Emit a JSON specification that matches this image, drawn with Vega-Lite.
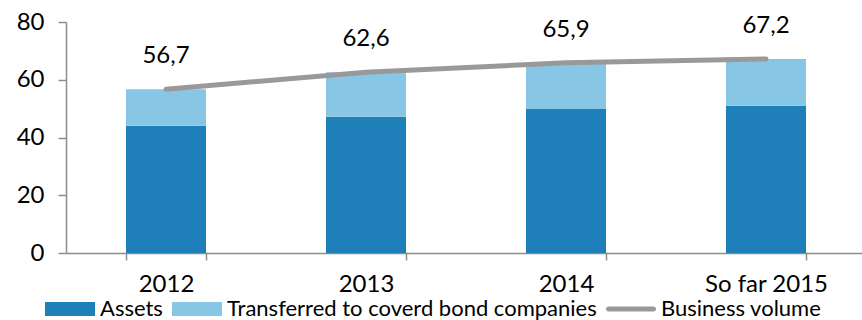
{
  "$schema": "https://vega.github.io/schema/vega-lite/v6.json",
  "autosize": {"type": "none"},
  "padding": {"left": 66, "top": 22, "right": 0, "bottom": 67},
  "width": 800,
  "height": 231,
  "config": {
    "font": "Lato",
    "view": {"stroke": null},
    "axis": {"labelFont": "Lato", "labelFontSize": 24, "labelColor": "#000000", "domainColor": "#8c8c8c", "tickColor": "#8c8c8c", "domainWidth": 1.5, "tickWidth": 1.5, "grid": false, "title": null}
  },
  "datasets": {
    "bars": [
      {"year": "2012", "series": "Assets", "value": 44.1},
      {"year": "2012", "series": "Transferred to coverd bond companies", "value": 12.6},
      {"year": "2013", "series": "Assets", "value": 47.2},
      {"year": "2013", "series": "Transferred to coverd bond companies", "value": 15.4},
      {"year": "2014", "series": "Assets", "value": 49.9},
      {"year": "2014", "series": "Transferred to coverd bond companies", "value": 16.0},
      {"year": "So far 2015", "series": "Assets", "value": 51.0},
      {"year": "So far 2015", "series": "Transferred to coverd bond companies", "value": 16.2}
    ],
    "totals": [
      {"year": "2012", "series": "Business volume", "total": 56.7, "label": "56,7"},
      {"year": "2013", "series": "Business volume", "total": 62.6, "label": "62,6"},
      {"year": "2014", "series": "Business volume", "total": 65.9, "label": "65,9"},
      {"year": "So far 2015", "series": "Business volume", "total": 67.2, "label": "67,2"}
    ]
  },
  "encoding": {
    "x": {
      "field": "year", "type": "nominal", "sort": null,
      "scale": {"paddingInner": 0.6, "paddingOuter": 0.3},
      "axis": {"labelAngle": 0, "tickBand": "extent", "tickSize": 7, "labelPadding": 12}
    }
  },
  "layer": [
    {
      "data": {"name": "bars"},
      "mark": {"type": "bar"},
      "encoding": {
        "y": {
          "field": "value", "type": "quantitative", "stack": "zero",
          "scale": {"domain": [0, 80]},
          "axis": {"values": [0, 20, 40, 60, 80], "tickSize": 8, "labelPadding": 14, "domain": true}
        },
        "color": {
          "field": "series", "type": "nominal",
          "scale": {"domain": ["Assets", "Transferred to coverd bond companies", "Business volume"], "range": ["#1f80b9", "#88c6e5", "#999999"]},
          "legend": {
            "title": null, "orient": "none", "direction": "horizontal", "legendX": -21, "legendY": 262,
            "labelFont": "Lato", "labelFontSize": 22, "labelColor": "#000000",
            "symbolSize": 2500, "labelOffset": 5, "columnPadding": 9, "labelLimit": 500,
            "encode": {
              "symbols": {
                "update": {
                  "shape": {"signal": "datum.value === 'Business volume' ? 'M-0.9,-0.1H0.9A0.1,0.1 0 0 1 0.9,0.1H-0.9A0.1,0.1 0 0 1 -0.9,-0.1Z' : 'M-1,-0.28H1V0.28H-1Z'"},
                  "fill": {"signal": "datum.value === 'Assets' ? '#1f80b9' : (datum.value === 'Business volume' ? '#999999' : '#88c6e5')"},
                  "strokeWidth": {"value": 0},
                  "opacity": {"value": 1}
                }
              }
            }
          }
        },
        "order": {"field": "series", "sort": "ascending"}
      }
    },
    {
      "data": {"name": "totals"},
      "mark": {"type": "line", "color": "#999999", "strokeWidth": 5, "strokeCap": "round"},
      "encoding": {
        "y": {"field": "total", "type": "quantitative"}
      }
    },
    {
      "data": {"name": "totals"},
      "mark": {"type": "text", "dy": -33, "fontSize": 24, "color": "#000000"},
      "encoding": {
        "y": {"field": "total", "type": "quantitative"},
        "text": {"field": "label"}
      }
    }
  ]
}
